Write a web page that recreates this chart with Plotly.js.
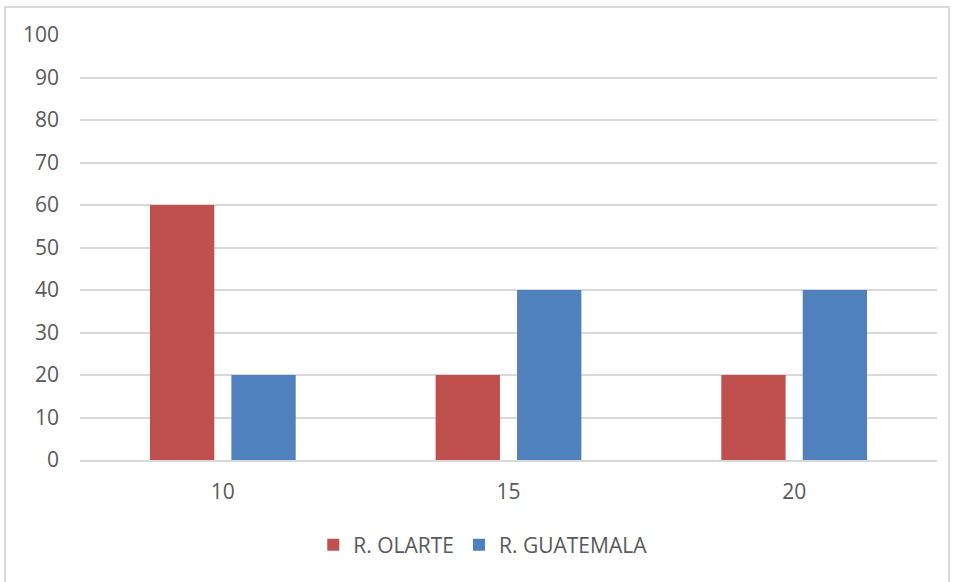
<!DOCTYPE html>
<html><head><meta charset="utf-8">
<script src="https://cdn.plot.ly/plotly-3.0.1.min.js"></script>
<style>
html,body{margin:0;padding:0;background:#fff;overflow:hidden;}
#frame{position:absolute;left:4px;top:6px;width:946px;height:600px;border:2px solid #d9d9d9;box-sizing:border-box;}
#chart{position:absolute;left:0;top:0;width:953px;height:582px;}
</style></head>
<body>
<div id="frame"></div>
<div id="chart"></div>
<script>
var categories = ["10", "15", "20"];
var olarte = [60, 20, 20];
var guatemala = [20, 40, 40];
var yTicks = [0, 10, 20, 30, 40, 50, 60, 70, 80, 90, 100];

var traces = [
  {type: "bar", name: "R. OLARTE", x: categories, y: olarte, marker: {color: "#c0504d"}},
  {type: "bar", name: "R. GUATEMALA", x: categories, y: guatemala, marker: {color: "#4f81bd"}}
];
var font = {family: "'Open Sans', 'Liberation Sans', sans-serif", size: 21, color: "#595959"};
var layout = {
  width: 953, height: 582,
  margin: {l: 80, r: 16, t: 35, b: 122},
  paper_bgcolor: "rgba(0,0,0,0)", plot_bgcolor: "rgba(0,0,0,0)",
  font: font,
  barmode: "group", bargap: 0.43, bargroupgap: 0.21,
  xaxis: {type: "category", showgrid: false, zeroline: false, showline: true, linecolor: "#d9d9d9", linewidth: 2,
          ticks: "", tickfont: font, ticklabelstandoff: 12},
  yaxis: {range: [0, 100], tickvals: yTicks, showgrid: true, gridcolor: "#d9d9d9", gridwidth: 2, zeroline: false,
          showline: false, ticks: "", tickfont: font, ticklabelstandoff: 20},
  showlegend: true,
  legend: {orientation: "h", x: 0.47, xanchor: "center", y: -0.2, yanchor: "middle", font: font, itemwidth: 30, traceorder: "normal"}
};
Plotly.newPlot("chart", traces, layout, {displayModeBar: false, staticPlot: true});
</script>
</body></html>
